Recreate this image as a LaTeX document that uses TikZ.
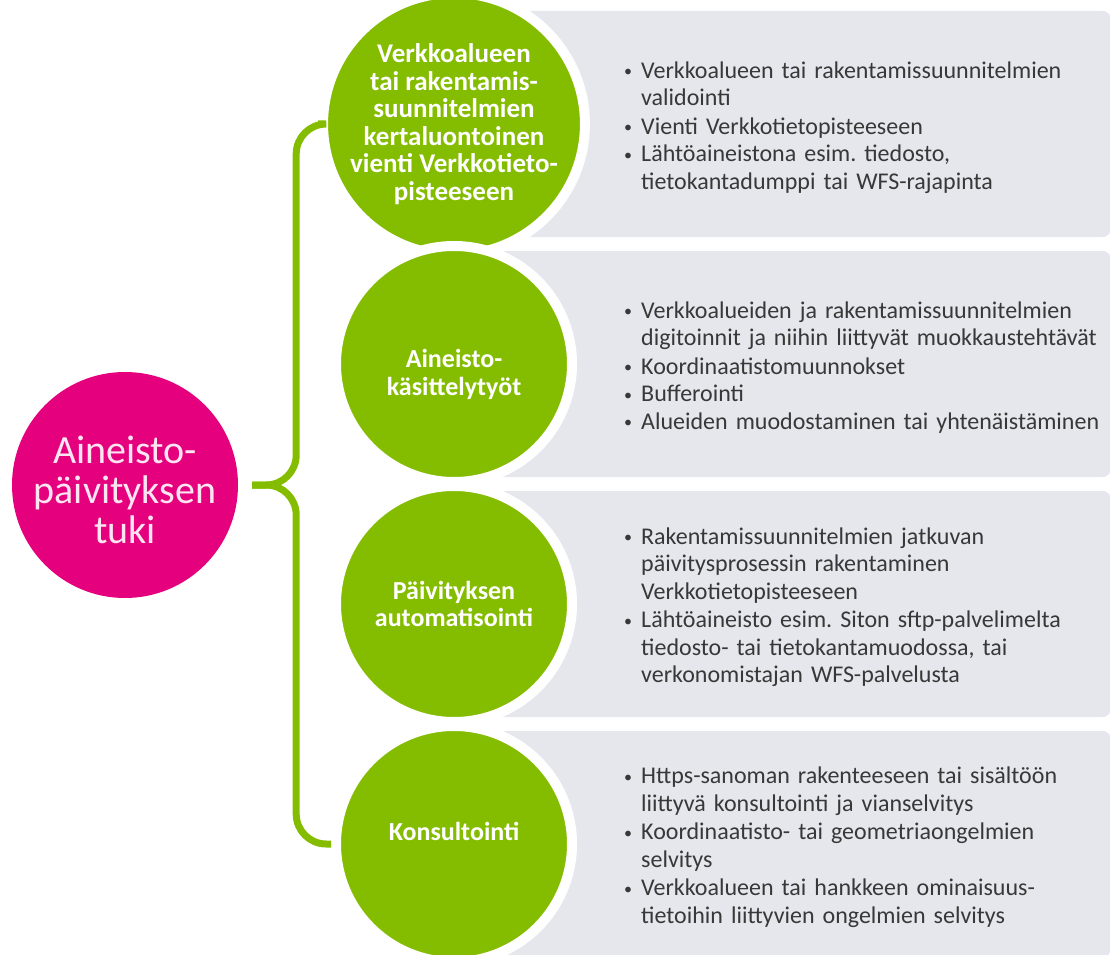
\documentclass[tikz,border=0pt]{standalone}
\usepackage{fontspec}
\setmainfont{Carlito}
\usepackage{tikz}
\usetikzlibrary{positioning,calc}
\definecolor{leafgreen}{HTML}{84BD00}
\definecolor{hotpink}{HTML}{E5007E}
\definecolor{panelgray}{HTML}{E5E7EC}
\definecolor{bodytext}{HTML}{383838}
\definecolor{pinkwhite}{HTML}{FCE4F1}
\newcommand{\blt}[1]{\par\noindent\makebox[19pt][l]{\hspace{2pt}\raisebox{1.5pt}{\fontsize{16}{16}\selectfont\textbullet}}\begin{tabular}[t]{@{}l@{}}#1\end{tabular}\par}
\newcommand{\nudged}[2]{\raisebox{#1}[0pt][0pt]{\begin{tabular}{@{}c@{}}#2\end{tabular}}}
\tikzset{
  panelbox/.style={
    fill=panelgray,
    rounded corners=7pt,
    minimum width=656pt,
    minimum height=226pt,
    inner sep=0pt,
    anchor=west
  },
  greenball/.style={
    circle,
    fill=leafgreen,
    draw=white,
    line width=10pt,
    minimum size=236pt,
    inner sep=0pt,
    align=center,
    text=white,
    font=\fontsize{26}{27.5}\selectfont\bfseries
  },
  pinkball/.style={
    circle,
    fill=hotpink,
    minimum size=226pt,
    inner sep=0pt,
    text=pinkwhite,
    font=\fontsize{40}{40}\selectfont
  },
  bullettext/.style={
    anchor=west,
    text width=480pt,
    align=left,
    inner sep=0pt,
    text=bodytext,
    font=\fontsize{24}{27.5}\selectfont\frenchspacing
  },
  bracearm/.style={draw=leafgreen, line width=7pt, rounded corners=30pt}
}

\begin{document}
\begin{tikzpicture}[x=1pt, y=-1pt]
\useasboundingbox (0,0) rectangle (1117,955);

\node[panelbox] (p1) at (454,124) {};
\node[panelbox] (p2) at (454,364) {};
\node[panelbox] (p3) at (454,604) {};
\node[panelbox] (p4) at (454,844) {};

\node[bullettext] (t1) at ([xshift=168pt]p1.west) {\blt{Verkkoalueen tai rakentamissuunnitelmien\\validointi}
\blt{Vienti Verkkotietopisteeseen}
\blt{Lähtöaineistona esim. tiedosto,\\tietokantadumppi tai WFS-rajapinta}};
\node[bullettext] (t2) at ([xshift=168pt]p2.west) {\blt{Verkkoalueiden ja rakentamissuunnitelmien\\digitoinnit ja niihin liittyvät muokkaustehtävät}
\blt{Koordinaatistomuunnokset}
\blt{Bufferointi}
\blt{Alueiden muodostaminen tai yhtenäistäminen}};
\node[bullettext] (t3) at ([xshift=168pt]p3.west) {\blt{Rakentamissuunnitelmien jatkuvan\\päivitysprosessin rakentaminen\\Verkkotietopisteeseen}
\blt{Lähtöaineisto esim. Siton sftp-palvelimelta\\tiedosto- tai tietokantamuodossa, tai\\verkonomistajan WFS-palvelusta}};
\node[bullettext] (t4) at ([xshift=168pt]p4.west) {\blt{Https-sanoman rakenteeseen tai sisältöön\\liittyvä konsultointi ja vianselvitys}
\blt{Koordinaatisto- tai geometriaongelmien\\selvitys}
\blt{Verkkoalueen tai hankkeen ominaisuus-\\tietoihin liittyvien ongelmien selvitys}};

\node[pinkball] (main) at (125,485) {\nudged{-17pt}{Aineisto-\\päivityksen\\tuki}};
\coordinate[right=14pt of main.east] (tip);

\node[greenball, font=\fontsize{27}{27.5}\selectfont\bfseries] (c1) at (p1.west) {Verkkoalueen\\tai rakentamis-\\suunnitelmien\\kertaluontoinen\\vienti Verkkotieto-\\pisteeseen};
\node[greenball] (c2) at (p2.west) {\nudged{-18pt}{Aineisto-\\käsittelytyöt}};
\node[greenball] (c3) at (p3.west) {Päivityksen\\automatisointi};
\node[greenball] (c4) at (p4.west) {\nudged{3pt}{Konsultointi}};

\draw[bracearm] (c1.west) -| ([xshift=44pt]tip) -- (tip);
\draw[bracearm] (c4.west) -| ([xshift=44pt]tip) -- (tip);
\end{tikzpicture}
\end{document}
